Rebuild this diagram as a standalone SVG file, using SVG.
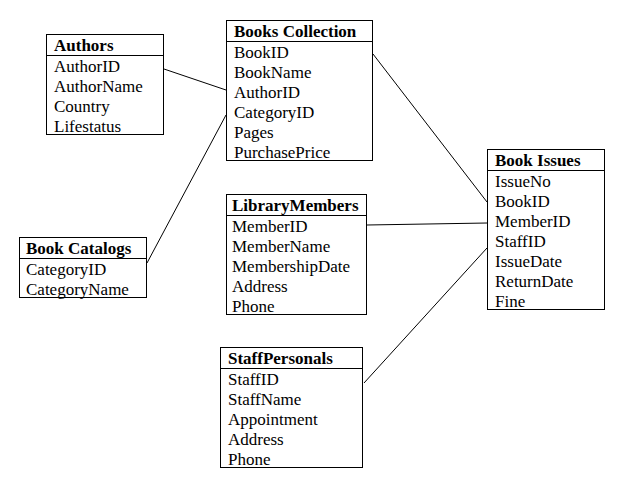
<svg xmlns="http://www.w3.org/2000/svg" width="637" height="501" viewBox="0 0 637 501">
<style>
.box{fill:#fff;stroke:#000;stroke-width:1}
.div{stroke:#000;stroke-width:1}
.t{font-family:"Liberation Serif","Times New Roman",serif;font-size:17px;fill:#000}
.h{font-weight:bold}
.c{stroke:#000;stroke-width:1;fill:none}
</style>
<rect width="637" height="501" fill="#fff"/>
<g id="connectors">
<line class="c" x1="164" y1="69" x2="226" y2="90"/>
<line class="c" x1="226" y1="115" x2="147" y2="263"/>
<line class="c" x1="373" y1="54" x2="487" y2="202"/>
<line class="c" x1="367" y1="225" x2="487" y2="223"/>
<line class="c" x1="364" y1="383" x2="487" y2="248"/>
</g>
<g id="authors">
<rect class="box" x="46.5" y="34.5" width="117" height="100"/>
<line class="div" x1="46.5" y1="55.5" x2="163.5" y2="55.5"/>
<text class="t h" x="54" y="51">Authors</text>
<text class="t" x="54" y="72">AuthorID</text>
<text class="t" x="54" y="92">AuthorName</text>
<text class="t" x="54" y="112">Country</text>
<text class="t" x="54" y="132">Lifestatus</text>
</g>
<g id="books-collection">
<rect class="box" x="226.5" y="20.5" width="146" height="140"/>
<line class="div" x1="226.5" y1="41.5" x2="372.5" y2="41.5"/>
<text class="t h" x="234" y="37">Books Collection</text>
<text class="t" x="234" y="58">BookID</text>
<text class="t" x="234" y="78">BookName</text>
<text class="t" x="234" y="98">AuthorID</text>
<text class="t" x="234" y="118">CategoryID</text>
<text class="t" x="234" y="138">Pages</text>
<text class="t" x="234" y="158">PurchasePrice</text>
</g>
<g id="book-issues">
<rect class="box" x="487.5" y="149.5" width="117" height="160"/>
<line class="div" x1="487.5" y1="170.5" x2="604.5" y2="170.5"/>
<text class="t h" x="495" y="166">Book Issues</text>
<text class="t" x="495" y="187">IssueNo</text>
<text class="t" x="495" y="207">BookID</text>
<text class="t" x="495" y="227">MemberID</text>
<text class="t" x="495" y="247">StaffID</text>
<text class="t" x="495" y="267">IssueDate</text>
<text class="t" x="495" y="287">ReturnDate</text>
<text class="t" x="495" y="307">Fine</text>
</g>
<g id="library-members">
<rect class="box" x="226.5" y="194.5" width="140" height="120"/>
<line class="div" x1="226.5" y1="215.5" x2="366.5" y2="215.5"/>
<text class="t h" x="232" y="211">LibraryMembers</text>
<text class="t" x="232" y="232">MemberID</text>
<text class="t" x="232" y="252">MemberName</text>
<text class="t" x="232" y="272">MembershipDate</text>
<text class="t" x="232" y="292">Address</text>
<text class="t" x="232" y="312">Phone</text>
</g>
<g id="book-catalogs">
<rect class="box" x="19.5" y="237.5" width="127" height="60"/>
<line class="div" x1="19.5" y1="258.5" x2="146.5" y2="258.5"/>
<text class="t h" x="26" y="254">Book Catalogs</text>
<text class="t" x="26" y="275">CategoryID</text>
<text class="t" x="26" y="295">CategoryName</text>
</g>
<g id="staff-personals">
<rect class="box" x="220.5" y="347.5" width="142" height="120"/>
<line class="div" x1="220.5" y1="368.5" x2="362.5" y2="368.5"/>
<text class="t h" x="228" y="364">StaffPersonals</text>
<text class="t" x="228" y="385">StaffID</text>
<text class="t" x="228" y="405">StaffName</text>
<text class="t" x="228" y="425">Appointment</text>
<text class="t" x="228" y="445">Address</text>
<text class="t" x="228" y="465">Phone</text>
</g>
</svg>
